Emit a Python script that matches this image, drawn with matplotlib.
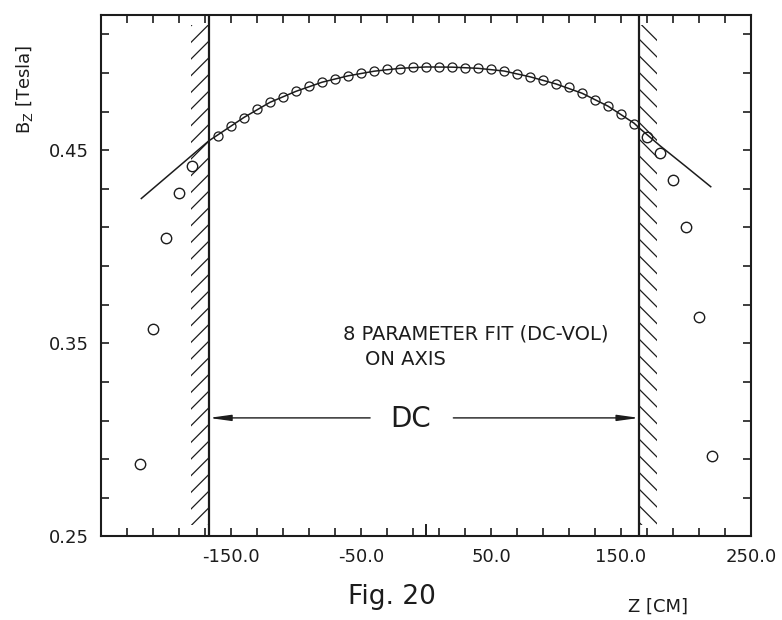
import numpy as np
import matplotlib
matplotlib.use('Agg')
import matplotlib.pyplot as plt

# measured field B_z on the axis, inside the drift chamber (z in cm)
z_in = [-160, -150, -140, -130, -120, -110, -100, -90, -80, -70, -60, -50, -40,
        -30, -20, -10, 0, 10, 20, 30, 40, 50, 60, 70, 80, 90, 100, 110, 120,
        130, 140, 150, 160]
b_in = [0.4576, 0.4626, 0.4669, 0.4713, 0.4749, 0.4778, 0.4804, 0.4831, 0.4854,
        0.4870, 0.4883, 0.4898, 0.4908, 0.4918, 0.4923, 0.4930, 0.4931, 0.4933,
        0.4929, 0.4928, 0.4926, 0.4919, 0.4911, 0.4896, 0.4880, 0.4861, 0.4841,
        0.4825, 0.4795, 0.4762, 0.4729, 0.4689, 0.4638]

# measured points outside the chamber
z_out = [-220, -210, -200, -190, -180, 170, 180, 190, 200, 210, 220]
b_out = [0.2875, 0.3576, 0.4044, 0.4279, 0.4418,
         0.4568, 0.4486, 0.4347, 0.4100, 0.3634, 0.2916]

# 8 parameter fit curve
fit_z = [-219, -200, -180, -167, -160, -140, -120, -100, -80, -60, -40, -20, 0,
         20, 40, 60, 80, 100, 120, 140, 160, 164, 180, 200, 219]
fit_b = [0.4250, 0.4359, 0.4474, 0.4549, 0.4580, 0.4670, 0.4748, 0.4805, 0.4852,
         0.4885, 0.4909, 0.4924, 0.4931, 0.4930, 0.4924, 0.4910, 0.4880, 0.4843,
         0.4795, 0.4728, 0.4640, 0.4615, 0.4523, 0.4415, 0.4311]

dc_edges = [-167, 164]   # drift chamber ends

x_ticks = [-150, -50, 50, 150, 250]
x_labels = ['-150.0', '-50.0', '50.0', '150.0', '250.0']
y_ticks = [0.25, 0.35, 0.45]
y_labels = ['0.25', '0.35', '0.45']

ink = '#1c1c1c'
plt.rcParams['hatch.linewidth'] = 0.9

fig = plt.figure(figsize=(7.82, 6.2), dpi=100)
ax = fig.add_axes([0.1292, 0.1347, 0.8312, 0.8411])
ax.set_xlim(-250, 250)
ax.set_ylim(0.25, 0.52)

# hatched chamber walls
wall = 14
ax.fill_betweenx([0.256, 0.515], dc_edges[0] - wall, dc_edges[0], facecolor='none',
                 edgecolor=ink, linewidth=0, hatch='//')
ax.fill_betweenx([0.256, 0.515], dc_edges[1], dc_edges[1] + wall, facecolor='none',
                 edgecolor=ink, linewidth=0, hatch='\\\\')
for e in dc_edges:
    ax.axvline(e, color=ink, lw=1.6)

ax.plot(fit_z, fit_b, color=ink, lw=1.1)
ax.plot(z_in, b_in, 'o', mfc='none', mec=ink, ms=6.5, mew=0.9)
ax.plot(z_out, b_out, 'o', mfc='none', mec=ink, ms=7.5, mew=1.0)

# DC arrow
arr = dict(arrowstyle='-|>,head_length=1.3,head_width=0.18', color=ink, lw=1.0,
           shrinkA=0, shrinkB=0)
ax.annotate('', xy=(dc_edges[0], 0.3114), xytext=(-43, 0.3114), arrowprops=arr)
ax.annotate('', xy=(dc_edges[1], 0.3114), xytext=(21, 0.3114), arrowprops=arr)
ax.text(-11.5, 0.3108, 'DC', fontsize=20, ha='center', va='center', color=ink)

ax.text(-63.8, 0.3549, '8 PARAMETER FIT (DC-VOL)', fontsize=14, ha='left',
        va='center', color=ink)
ax.text(-46.9, 0.3415, 'ON AXIS', fontsize=14, ha='left', va='center', color=ink)

# ticks
ax.set_xticks(x_ticks)
ax.set_xticklabels(x_labels, fontsize=13, color=ink)
ax.set_xticks(np.arange(-230, 250, 20), minor=True)
ax.set_yticks(y_ticks)
ax.set_yticklabels(y_labels, fontsize=13, color=ink)
ax.set_yticks(np.arange(0.27, 0.52, 0.02), minor=True)
ax.tick_params(which='both', direction='in', length=6, width=1.2, color=ink,
               top=True, right=True)
ax.tick_params(axis='x', pad=8)
ax.tick_params(axis='y', pad=9)
ax.axvline(0, 0, 0.022, color=ink, lw=1.4)
for s in ax.spines.values():
    s.set_linewidth(1.5)
    s.set_color(ink)

fig.text(0.0307, 0.8556, 'B$_\\mathregular{Z}$ [Tesla]', rotation=90, fontsize=13,
         ha='center', va='center', color=ink)
fig.text(0.501, 0.037, 'Fig. 20', fontsize=19, ha='center', va='center', color=ink)
fig.text(0.841, 0.021, 'Z [CM]', fontsize=13, ha='center', va='center', color=ink)

fig.savefig('out.png', dpi=100, facecolor='white')
